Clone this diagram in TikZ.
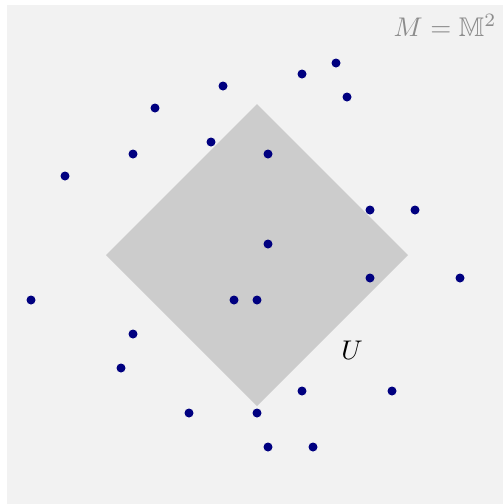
\documentclass[tikz,border=0pt]{standalone}
\usepackage{amssymb}
\begin{document}
\begin{tikzpicture}[x=1pt,y=-1pt,
  pt/.style={fill={rgb,1:red,0;green,0;blue,0.5},draw=none},
  lbl/.style={inner sep=0pt,scale=2.7}]
\useasboundingbox (0,0) rectangle (503,504);
\fill[white] (0,0) rectangle (503,504);
\fill[black!5] (7,5) rectangle (503,504);
\fill[black!20] (257,104) -- (408,255) -- (257,406) -- (106,255) -- cycle;
\node[lbl,text=black!45,anchor=north east] (M) at (497,14) {$M=\mathbb{M}^2$};
\node[lbl] (U) at (352,350) {$U$};
\foreach \x/\y [count=\i] in {31/300,65/176,121/368,133/154,133/334,155/108,189/413,211/142,223/86,234/300,257/300,257/413,268/154,268/244,268/447,302/74,302/391,313/447,336/63,347/97,370/210,370/278,392/391,415/210,460/278}
  \fill[pt] (\x,\y) circle (4.5);
\end{tikzpicture}
\end{document}
